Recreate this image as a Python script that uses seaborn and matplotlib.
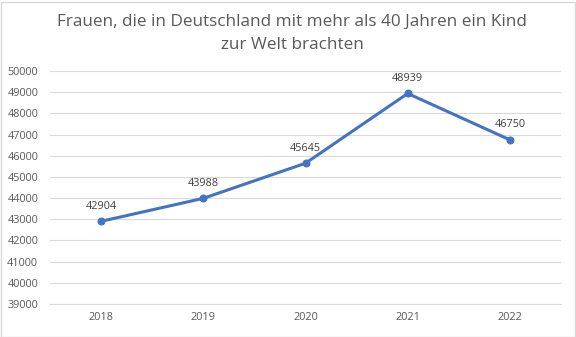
import matplotlib
matplotlib.use("Agg")
import matplotlib.pyplot as plt
import seaborn as sns
import pandas as pd

years = ["2018", "2019", "2020", "2021", "2022"]
values = [42904, 43988, 45645, 48939, 46750]
yticks = list(range(39000, 50001, 1000))
title = "Frauen, die in Deutschland mit mehr als 40 Jahren ein Kind\nzur Welt brachten"

sns.set_theme(style="white")
plt.rcParams['font.family'] = ['Open Sans', 'DejaVu Sans']

df = pd.DataFrame({"year": years, "value": values})

fig = plt.figure(figsize=(5.76, 3.37), dpi=100)
ax = fig.add_axes([50/576, 1-304/337, 511/576, 233/337])

sns.lineplot(data=df, x="year", y="value", ax=ax, color="#4472C4", linewidth=2.2,
             marker="o", markersize=5, markeredgecolor="#4472C4", sort=False)

ax.set_xlim(-0.5, len(years) - 0.5)
ax.set_ylim(yticks[0], yticks[-1])
ax.set_yticks(yticks)
ax.set_yticklabels([str(t) for t in yticks])
ax.grid(axis="y", color="#D9D9D9", linewidth=0.8)
ax.set_axisbelow(True)
for s in ["top", "right", "left"]:
    ax.spines[s].set_visible(False)
ax.spines["bottom"].set_color("#D9D9D9")
ax.spines["bottom"].set_linewidth(0.8)
ax.tick_params(axis="both", length=0, colors="#595959", labelsize=7.8, pad=6)
ax.tick_params(axis="y", pad=8.5)
ax.set_xlabel("")
ax.set_ylabel("")

for i, v in enumerate(values):
    ax.annotate(str(v), (i, v), xytext=(0, 7), textcoords="offset points",
                ha="center", va="bottom", fontsize=7.8, color="#404040")

fig.text(292/576, 1-33/337, title, ha="center", va="center", fontsize=12.3,
         color="#595959", linespacing=1.6)

fig.patches.append(plt.Rectangle((0.5/576, 0.5/337), 574/576, 335/337, transform=fig.transFigure,
                                 fill=False, edgecolor="#D9D9D9", linewidth=1))

fig.savefig("out.png", dpi=100)
